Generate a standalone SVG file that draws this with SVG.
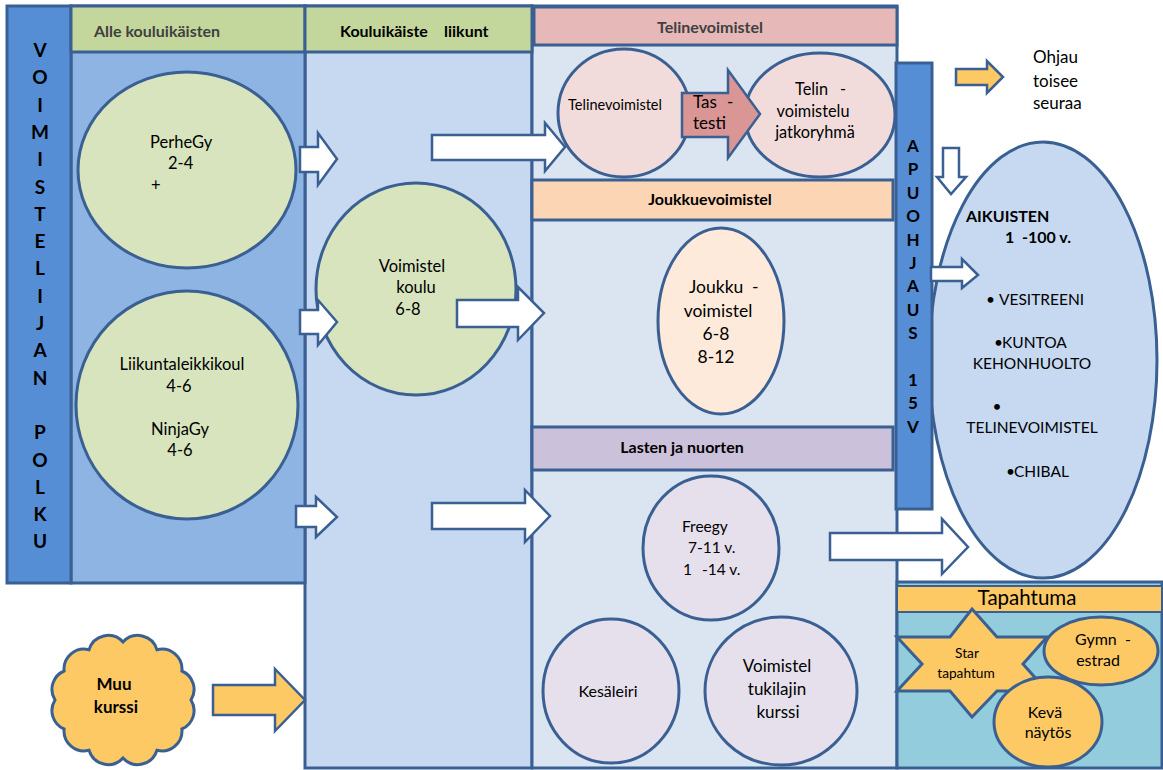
<svg xmlns="http://www.w3.org/2000/svg" width="1163" height="770" viewBox="0 0 1163 770">
<style>
.b{stroke:#3a6093;stroke-width:3}
.c{stroke:#3a6093;stroke-width:2.5;fill:#fff}
.y{fill:#fcc964}
.t{font-family:Lato,"Liberation Sans",sans-serif;fill:#000}
.bd{font-weight:bold}
.m{text-anchor:middle}
.g{fill:#404040}
</style>
<rect width="1163" height="770" fill="#fff"/>
<g id="columns">
  <rect id="col2" x="305" y="6" width="227" height="762" fill="#c6d9f1" class="b"/>
  <rect id="col3" x="532" y="6" width="365" height="762" fill="#dbe5f1" class="b"/>
  <rect id="col1" x="71" y="6" width="234" height="577" fill="#8eb4e3" class="b"/>
  <rect id="leftbar" x="7" y="6" width="64" height="577" fill="#558ed5" class="b"/>
</g>
<g id="header-alle">
  <rect x="71" y="6" width="234" height="46" fill="#c3d69b" class="b"/>
  <text class="t bd g" x="94" y="37" font-size="16">Alle kouluikäisten</text>
</g>
<g id="header-koulu">
  <rect x="305" y="6" width="227" height="46" fill="#c3d69b" class="b"/>
  <text class="t bd" y="37" font-size="16"><tspan x="340">Kouluikäiste</tspan><tspan x="444">liikunt</tspan></text>
</g>
<g id="header-teline">
  <rect x="534" y="7" width="363" height="38" fill="#e6b9b8" class="b"/>
  <text class="t bd g m" x="710" y="33" font-size="16">Telinevoimistel</text>
</g>
<g id="header-joukkue">
  <rect x="532" y="180" width="361" height="40" fill="#fcd5b5" class="b"/>
  <text class="t bd m" x="710" y="205" font-size="16">Joukkuevoimistel</text>
</g>
<g id="header-lasten">
  <rect x="532" y="427" width="361" height="43" fill="#ccc1da" class="b"/>
  <text class="t bd m" x="682" y="453" font-size="16">Lasten ja nuorten</text>
</g>
<g id="polku-label">
  <text class="t bd m" font-size="19"><tspan x="40" y="57">V</tspan><tspan x="40" y="84.3">O</tspan><tspan x="40" y="111.6">I</tspan><tspan x="40" y="138.9">M</tspan><tspan x="40" y="166.2">I</tspan><tspan x="40" y="193.5">S</tspan><tspan x="40" y="220.8">T</tspan><tspan x="40" y="248.1">E</tspan><tspan x="40" y="275.4">L</tspan><tspan x="40" y="302.7">I</tspan><tspan x="40" y="330">J</tspan><tspan x="40" y="357.3">A</tspan><tspan x="40" y="384.6">N</tspan><tspan x="40" y="439.2">P</tspan><tspan x="40" y="466.5">O</tspan><tspan x="40" y="493.8">L</tspan><tspan x="40" y="521.1">K</tspan><tspan x="40" y="548.4">U</tspan></text>
</g>
<g id="perhegy">
  <ellipse cx="187" cy="170" rx="109" ry="98" fill="#d7e4bd" class="b"/>
  <text class="t" font-size="16.5"><tspan x="150" y="148">PerheGy</tspan><tspan x="168" y="169">2-4</tspan><tspan x="151" y="191">+</tspan></text>
</g>
<g id="liikunta">
  <ellipse cx="187" cy="405" rx="111" ry="114" fill="#d7e4bd" class="b"/>
  <text class="t m" font-size="16.5"><tspan x="182" y="370">Liikuntaleikkikoul</tspan><tspan x="179" y="392">4-6</tspan><tspan x="180" y="435">NinjaGy</tspan><tspan x="180" y="456">4-6</tspan></text>
</g>
<g id="voimistelkoulu">
  <ellipse cx="416" cy="289" rx="100" ry="106" fill="#d7e4bd" class="b"/>
  <text class="t m" font-size="16.5"><tspan x="412" y="272">Voimistel</tspan><tspan x="416" y="293">koulu</tspan><tspan x="408" y="315">6-8</tspan></text>
</g>
<g id="telinevoimistel">
  <ellipse cx="624" cy="113" rx="66" ry="64" fill="#f2dcdb" class="b"/>
  <text class="t m" x="615" y="110" font-size="14.5">Telinevoimistel</text>
</g>
<g id="jatkoryhma">
  <ellipse cx="820" cy="115" rx="75" ry="62" fill="#f2dcdb" class="b"/>
  <text class="t" font-size="16.3"><tspan x="795" y="95">Telin</tspan><tspan x="840" y="95">-</tspan></text>
  <text class="t m" font-size="16.3"><tspan x="813" y="117">voimistelu</tspan><tspan x="815" y="138">jatkoryhmä</tspan></text>
</g>
<g id="tastesti">
  <polygon points="682,93 728,93 728,70 760,114 728,158 728,137 682,137" fill="#d99694" class="c" style="fill:#d99694"/>
  <text class="t" font-size="17"><tspan x="693" y="108">Tas</tspan><tspan x="727" y="108">-</tspan><tspan x="693" y="129">testi</tspan></text>
</g>
<g id="joukku">
  <ellipse cx="721" cy="321" rx="63" ry="93" fill="#fdeada" class="b"/>
  <text class="t" font-size="17.5"><tspan x="689" y="293">Joukku</tspan><tspan x="752" y="293">-</tspan></text>
  <text class="t m" font-size="17.5"><tspan x="718" y="317">voimistel</tspan><tspan x="716" y="340">6-8</tspan><tspan x="716" y="363">8-12</tspan></text>
</g>
<g id="freegy">
  <ellipse cx="711" cy="548" rx="68" ry="72" fill="#e6e0ec" class="b"/>
  <text class="t" font-size="15.5"><tspan x="682" y="532">Freegy</tspan><tspan x="688" y="553">7-11 v.</tspan><tspan x="683" y="575">1</tspan><tspan x="702" y="575">-14 v.</tspan></text>
</g>
<g id="kesaleiri">
  <ellipse cx="611" cy="691" rx="68" ry="72" fill="#e6e0ec" class="b"/>
  <text class="t m" x="608" y="697" font-size="16">Kesäleiri</text>
</g>
<g id="tukilaji">
  <ellipse cx="781" cy="691" rx="76" ry="74" fill="#e6e0ec" class="b"/>
  <text class="t m" font-size="17"><tspan x="777" y="672">Voimistel</tspan><tspan x="777" y="695">tukilajin</tspan><tspan x="778" y="718">kurssi</tspan></text>
</g>
<g id="aikuisten">
  <ellipse cx="1043" cy="360" rx="114" ry="218" fill="#c6d9f1" class="b"/>
  <text class="t bd" font-size="16"><tspan x="966" y="222">AIKUISTEN</tspan><tspan x="1005" y="243">1</tspan><tspan x="1022" y="243">-100 v.</tspan></text>
  <text class="t" font-size="15.5"><tspan x="986" y="305">•</tspan><tspan x="999" y="305">VESITREENI</tspan><tspan x="994" y="348">•</tspan><tspan x="1002" y="348">KUNTOA</tspan></text>
  <text class="t m" font-size="15.5"><tspan x="1032" y="369">KEHONHUOLTO</tspan><tspan x="997" y="412">•</tspan><tspan x="1032" y="433">TELINEVOIMISTEL</tspan></text>
  <text class="t" font-size="15.5"><tspan x="1006" y="477">•</tspan><tspan x="1014" y="477">CHIBAL</tspan></text>
</g>
<g id="apuohjaus">
  <rect x="896" y="63" width="36" height="446" fill="#558ed5" class="b"/>
  <text class="t bd m" font-size="17"><tspan x="913" y="152">A</tspan><tspan x="913" y="175.4">P</tspan><tspan x="913" y="198.8">U</tspan><tspan x="913" y="222.2">O</tspan><tspan x="913" y="245.6">H</tspan><tspan x="913" y="269">J</tspan><tspan x="913" y="292.4">A</tspan><tspan x="913" y="315.8">U</tspan><tspan x="913" y="339.2">S</tspan><tspan x="913" y="386">1</tspan><tspan x="913" y="409.4">5</tspan><tspan x="913" y="432.8">V</tspan></text>
</g>
<g id="ohjau">
  <text class="t" font-size="17"><tspan x="1033" y="63">Ohjau</tspan><tspan x="1033" y="87">toisee</tspan><tspan x="1033" y="109">seuraa</tspan></text>
</g>
<g id="tapahtuma">
  <rect x="897" y="582" width="265" height="186" fill="#93cddd" class="b"/>
  <rect x="897" y="586" width="265" height="26" fill="#fcc964" stroke="#3a6093" stroke-width="2"/>
  <text class="t m" x="1027" y="605" font-size="20.5">Tapahtuma</text>
</g>
<g id="star">
  <polygon points="972,609 997,637 1047,637 1023,664 1047,691 997,691 972,717 950,691 897,691 922,664 897,637 950,637" class="b y"/>
  <text class="t m" font-size="13.7"><tspan x="967" y="658">Star</tspan><tspan x="966" y="678">tapahtum</tspan></text>
</g>
<g id="gymnestrad">
  <ellipse cx="1101" cy="651" rx="57" ry="34" class="b y"/>
  <text class="t" font-size="16"><tspan x="1075" y="645">Gymn</tspan><tspan x="1125" y="645">-</tspan></text>
  <text class="t m" x="1098" y="666" font-size="16">estrad</text>
</g>
<g id="keva">
  <ellipse cx="1048" cy="722" rx="54" ry="45" class="b y"/>
  <text class="t m" font-size="16"><tspan x="1045" y="718">Kevä</tspan><tspan x="1048" y="738">näytös</tspan></text>
</g>
<g id="muukurssi">
  <path d="M191,700 A20,20 0 0 1 181.9,729 A20,20 0 0 1 157,750.2 A20,20 0 0 1 123,758 A20,20 0 0 1 89,750.2 A20,20 0 0 1 64.1,729 A20,20 0 0 1 55,700 A20,20 0 0 1 64.1,671 A20,20 0 0 1 89,649.8 A20,20 0 0 1 123,642 A20,20 0 0 1 157,649.8 A20,20 0 0 1 181.9,671 A20,20 0 0 1 191,700 Z" class="b y"/>
  <text class="t bd m" font-size="17"><tspan x="114" y="690">Muu</tspan><tspan x="116" y="713">kurssi</tspan></text>
</g>
<g id="connectors">
  <polygon class="c" points="300,147 318,147 318,133 337,159 318,185 318,172 300,172"/>
  <polygon class="c" points="300,310 318,310 318,300 337,322 318,345 318,334 300,334"/>
  <polygon class="c" points="296,506 316,506 316,497 337,517 316,537 316,527 296,527"/>
  <polygon class="c" points="432,135 545,135 545,123 565,147 545,171 545,160 432,160"/>
  <polygon class="c" points="457,300 518,300 518,287 544,313 518,340 518,327 457,327"/>
  <polygon class="c" points="432,503 525,503 525,490 550,516 525,542 525,529 432,529"/>
  <polygon class="c" points="830,533 942,533 942,519 968,547 942,574 942,560 830,560"/>
  <polygon class="c" points="931,267 962,267 962,259 978,275 962,288 962,281 931,281"/>
  <polygon class="c" points="943,148 959,148 959,177 966,177 951,194 937,177 943,177"/>
  <polygon class="c" style="fill:#fcc964" points="956,69 987,69 987,61 1003,77 987,93 987,85 956,85"/>
  <polygon class="c" style="fill:#fcc964" points="213,685 275,685 275,669 305,700 275,731 275,715 213,715"/>
</g>
</svg>
